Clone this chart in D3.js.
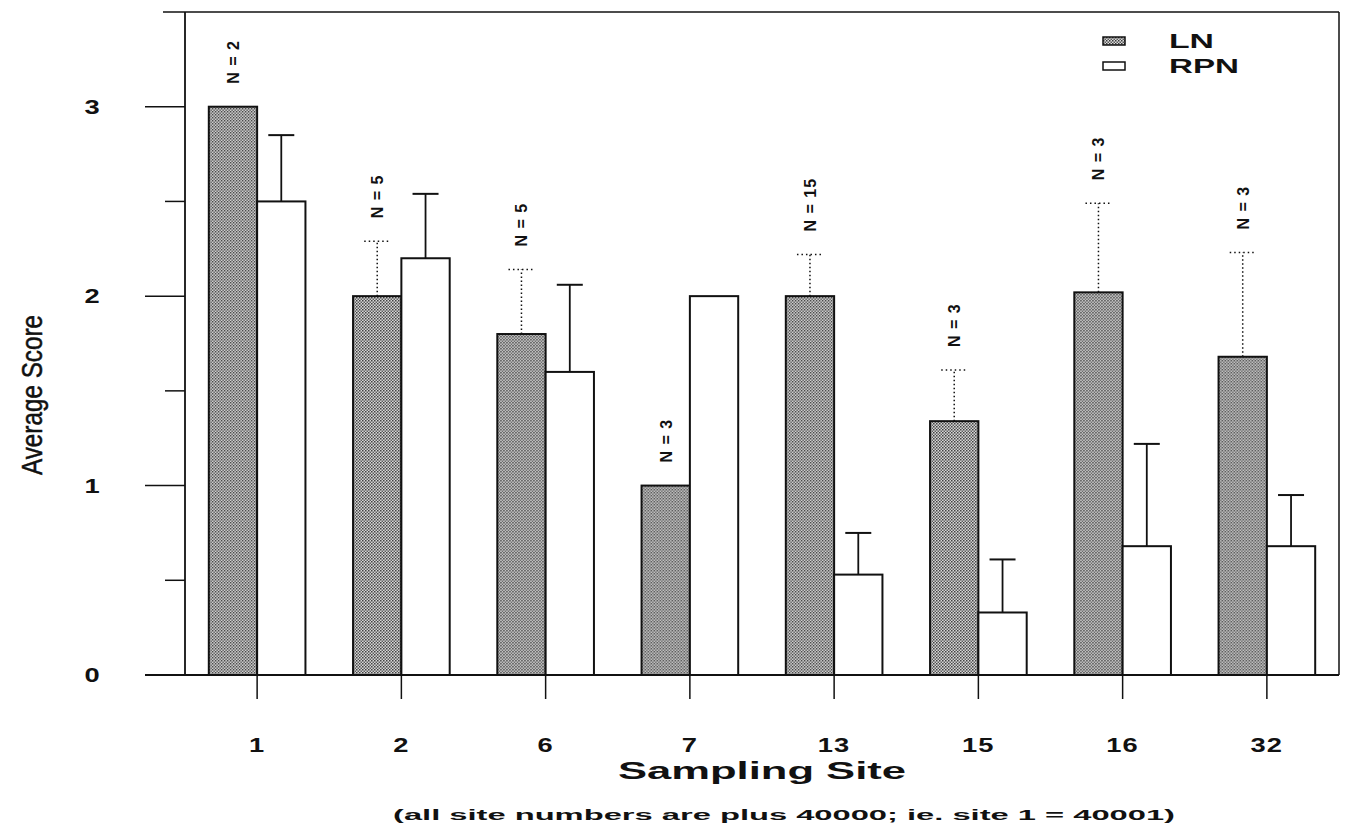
<!DOCTYPE html>
<html>
<head>
<meta charset="utf-8">
<script src="https://cdn.jsdelivr.net/npm/d3@7"></script>
<style>
  body { margin: 0; background: #fff; }
  svg text { fill: #111; }
</style>
</head>
<body>
<svg id="chart" width="1346" height="825"></svg>
<script>
// values
const sites = ["1", "2", "6", "7", "13", "15", "16", "32"];
const lnMean = [3.0, 2.0, 1.8, 1.0, 2.0, 1.34, 2.02, 1.68];
const lnUpper = [null, 2.29, 2.14, null, 2.22, 1.61, 2.49, 2.23]; // top of dotted error bar
const rpnMean = [2.5, 2.2, 1.6, 2.0, 0.53, 0.33, 0.68, 0.68];
const rpnUpper = [2.85, 2.54, 2.06, null, 0.75, 0.61, 1.22, 0.95];
const nCounts = [2, 5, 5, 3, 15, 3, 3, 3];
const yMajor = [0, 1, 2, 3];
const yMinor = [0.5, 1.5, 2.5];
const seriesNames = ["LN", "RPN"];

const svg = d3.select("#chart");
const pLeft = 185, pRight = 1339, pTop = 12, pBottom = 675;

const x = d3.scaleBand().domain(sites).range([pLeft, pRight]).paddingInner(0.33).paddingOuter(0.165);
const xSub = d3.scaleBand().domain(seriesNames).range([0, x.bandwidth()]);
const y = d3.scaleLinear().domain([0, 3.5]).range([pBottom, pTop]);

// stipple fill for LN bars
const defs = svg.append("defs");
const pat = defs.append("pattern").attr("id", "stipple")
  .attr("width", 3).attr("height", 3).attr("patternUnits", "userSpaceOnUse");
pat.append("rect").attr("width", 3).attr("height", 3).attr("fill", "#dcdcdc");
pat.append("rect").attr("width", 1.5).attr("height", 1.5).attr("fill", "#3a3a3a");
pat.append("rect").attr("x", 1.5).attr("y", 1.5).attr("width", 1.5).attr("height", 1.5).attr("fill", "#5a5a5a");

const rows = sites.map((s, i) => ({
  site: s, n: nCounts[i],
  bars: [
    { key: "LN", v: lnMean[i], up: lnUpper[i] },
    { key: "RPN", v: rpnMean[i], up: rpnUpper[i] }
  ]
}));

// frame
svg.append("line").attr("x1", 163).attr("x2", pRight).attr("y1", pTop).attr("y2", pTop)
  .attr("stroke", "#111").attr("stroke-width", 1.5);
svg.append("line").attr("x1", pRight).attr("x2", pRight).attr("y1", pTop).attr("y2", pBottom)
  .attr("stroke", "#111").attr("stroke-width", 1.5);
svg.append("line").attr("x1", pLeft).attr("x2", pLeft).attr("y1", pTop).attr("y2", pBottom)
  .attr("stroke", "#111").attr("stroke-width", 1.8);

// y ticks
svg.selectAll("line.ymaj").data(yMajor).join("line").attr("class", "ymaj")
  .attr("x1", 145).attr("x2", pLeft).attr("y1", d => y(d)).attr("y2", d => y(d))
  .attr("stroke", "#111").attr("stroke-width", 1.5);
svg.selectAll("line.ymin").data(yMinor).join("line").attr("class", "ymin")
  .attr("x1", 165).attr("x2", pLeft).attr("y1", d => y(d)).attr("y2", d => y(d))
  .attr("stroke", "#111").attr("stroke-width", 1.5);
svg.selectAll("text.ylab").data(yMajor).join("text").attr("class", "ylab")
  .attr("text-anchor", "middle")
  .style("font", "bold 21px 'Liberation Sans'")
  .attr("transform", d => `translate(92,${y(d) + 7}) scale(1.3,1)`)
  .text(d => d);

svg.append("text")
  .attr("transform", "translate(42,395) rotate(-90)")
  .attr("text-anchor", "middle")
  .attr("textLength", 160).attr("lengthAdjust", "spacingAndGlyphs")
  .style("font", "30px 'Liberation Sans'")
  .style("stroke", "#111").style("stroke-width", 0.5)
  .text("Average Score");

// groups
const g = svg.selectAll("g.site").data(rows).join("g").attr("class", "site")
  .attr("transform", d => `translate(${x(d.site)},0)`);

g.selectAll("rect").data(d => d.bars).join("rect")
  .attr("x", d => xSub(d.key)).attr("width", xSub.bandwidth())
  .attr("y", d => y(d.v)).attr("height", d => y(0) - y(d.v))
  .attr("fill", d => d.key === "LN" ? "url(#stipple)" : "#fff")
  .attr("stroke", "#111").attr("stroke-width", 2);

// error bars
const eb = g.selectAll("g.err").data(d => d.bars.filter(b => b.up != null)).join("g").attr("class", "err")
  .attr("transform", d => `translate(${xSub(d.key) + xSub.bandwidth() / 2},0)`);
eb.append("line").attr("x1", 0).attr("x2", 0)
  .attr("y1", d => y(d.v)).attr("y2", d => y(d.up))
  .attr("stroke", "#111")
  .attr("stroke-width", d => d.key === "LN" ? 1.5 : 1.8)
  .attr("stroke-dasharray", d => d.key === "LN" ? "1.5,2.5" : null);
eb.append("line").attr("x1", -13).attr("x2", 13)
  .attr("y1", d => y(d.up)).attr("y2", d => y(d.up))
  .attr("stroke", "#111")
  .attr("stroke-width", d => d.key === "LN" ? 1.5 : 2)
  .attr("stroke-dasharray", d => d.key === "LN" ? "1.5,3" : null);

// N labels above LN bars
g.append("text")
  .attr("transform", d => {
    const b = d.bars[0];
    const yy = y(b.up != null ? b.up : b.v) - 23;
    return `translate(${xSub("LN") + xSub.bandwidth() / 2 + 6},${yy}) rotate(-90)`;
  })
  .style("font", "bold 16px 'Liberation Sans'")
  .style("letter-spacing", "1px")
  .text(d => `N = ${d.n}`);

// x axis
svg.append("line").attr("x1", 145).attr("x2", pRight).attr("y1", pBottom).attr("y2", pBottom)
  .attr("stroke", "#111").attr("stroke-width", 1.8);
svg.selectAll("line.xt").data(sites).join("line").attr("class", "xt")
  .attr("x1", d => x(d) + x.bandwidth() / 2).attr("x2", d => x(d) + x.bandwidth() / 2)
  .attr("y1", pBottom).attr("y2", pBottom + 24)
  .attr("stroke", "#111").attr("stroke-width", 1.5);
svg.selectAll("text.xl").data(sites).join("text").attr("class", "xl")
  .attr("text-anchor", "middle")
  .attr("transform", d => `translate(${x(d) + x.bandwidth() / 2},752) scale(1.3,1)`)
  .style("font", "bold 21px 'Liberation Sans'").style("letter-spacing", "1px")
  .text(d => d);

svg.append("text").attr("x", 762).attr("y", 779).attr("text-anchor", "middle")
  .attr("textLength", 288).attr("lengthAdjust", "spacingAndGlyphs")
  .style("font", "bold 23px 'Liberation Sans'")
  .text("Sampling Site");

svg.append("text").attr("x", 784).attr("y", 820).attr("text-anchor", "middle")
  .attr("textLength", 782).attr("lengthAdjust", "spacingAndGlyphs")
  .style("font", "bold 14px 'Liberation Sans'")
  .text("(all site numbers are plus 40000; ie. site 1 = 40001)");

// legend
const leg = svg.selectAll("g.leg").data(seriesNames).join("g").attr("class", "leg")
  .attr("transform", (d, i) => `translate(1103,${37 + i * 25})`);
leg.append("rect").attr("width", 22).attr("height", 8)
  .attr("fill", d => d === "LN" ? "url(#stipple)" : "#fff")
  .attr("stroke", "#111").attr("stroke-width", 1.5);
leg.append("text").attr("x", 66).attr("y", 11)
  .attr("textLength", d => d === "LN" ? 45 : 70).attr("lengthAdjust", "spacingAndGlyphs")
  .style("font", "bold 21px 'Liberation Sans'")
  .text(d => d);
</script>
</body>
</html>
